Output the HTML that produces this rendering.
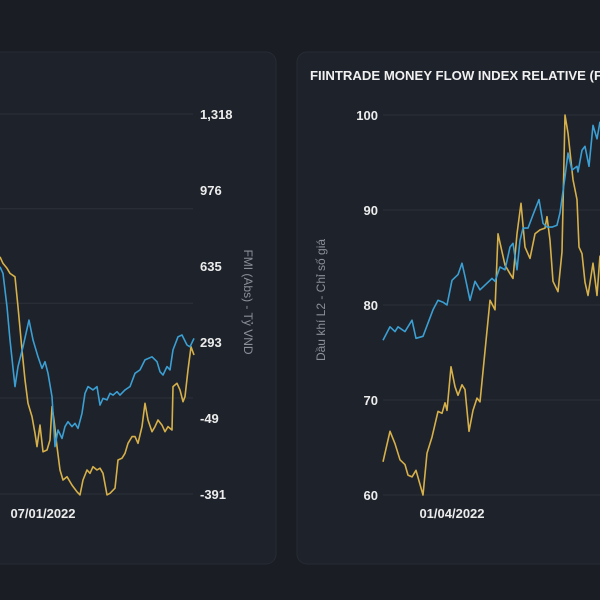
<!DOCTYPE html>
<html><head><meta charset="utf-8"><style>
html,body{margin:0;padding:0;background:#1a1d23;width:600px;height:600px;overflow:hidden}
svg{display:block;font-family:"Liberation Sans","DejaVu Sans",sans-serif}
</style></head><body>
<svg id="c" width="600" height="600" viewBox="0 0 600 600">
<rect x="0" y="0" width="600" height="600" fill="#1a1d23"/>
<rect x="-12" y="52" width="288" height="512" rx="10" fill="#1e222a" stroke="#272b34"/>
<rect x="297" y="52" width="320" height="512" rx="10" fill="#1e222a" stroke="#272b34"/>
<text x="310" y="80" fill="#f0f0f0" font-size="12.5" font-weight="bold" textLength="292" lengthAdjust="spacingAndGlyphs">FIINTRADE MONEY FLOW INDEX RELATIVE (F</text>
<g id="L"></g><g id="R"></g>
</svg>
<script>
// Left chart data (FMI Abs, Tỷ VND)
const leftTicks = [1318, 976, 635, 293, -49, -391];
const leftGrid = [1318, 892, 467, 41, -391];
const leftDateLabel = "07/01/2022";
const leftBlueDays = [0,3,7,10,15,18,23,29,33,38,42,45,48,52,55,58,62,65,68,72,75,78,82,85,88,93,97,100,103,107,110,113,117,120,125,130,135,140,145,152,157,160,163,167,170,173,178,182,187,190,194];
const leftBlue = [631,601,451,302,92,182,271,391,302,226,174,204,152,47,-178,-103,-141,-88,-66,-88,-73,-96,-28,62,92,77,92,9,39,32,62,54,69,54,77,92,152,167,212,226,204,159,144,182,167,257,316,324,279,271,309];
const leftYellowDays = [0,3,7,10,15,18,22,25,28,32,35,37,40,43,47,50,52,54,57,60,63,67,72,77,80,83,87,90,93,97,100,103,107,110,115,118,122,125,128,132,135,138,142,145,148,152,155,158,162,165,168,172,173,177,180,183,185,188,191,194];
const leftYellow = [676,646,624,601,586,451,257,122,17,-43,-118,-178,-81,-201,-193,-148,2,-58,-178,-283,-328,-313,-351,-381,-395,-328,-283,-298,-268,-283,-275,-298,-395,-388,-365,-238,-230,-208,-163,-133,-133,-163,-88,17,-58,-111,-88,-58,-81,-111,-88,-103,92,107,77,24,47,167,271,234];
// Right chart data (Dầu khí L2 price index)
const rightTicks = [100, 90, 80, 70, 60];
const rightDateLabel = "01/04/2022";
const rightBlueDays = [3,10,15,18,25,32,36,43,53,58,63,67,72,78,82,85,90,95,100,107,112,115,120,125,130,133,137,140,143,148,153,159,163,167,172,177,180,185,188,192,197,198,202,205,209,213,217,220];
const rightBlue = [76.3,77.7,77.2,77.7,77.2,78.4,76.5,76.7,79.5,80.5,80.3,80.0,82.6,83.2,84.4,83.0,80.5,82.5,81.6,82.3,82.8,82.5,84.0,83.7,86.1,86.5,83.7,86.8,88.1,88.1,89.5,91.1,88.6,88.2,88.2,88.4,89.7,93.5,96.0,94.2,94.6,94.0,96.3,96.7,94.6,98.9,97.5,99.3];
const rightYellowDays = [3,10,15,20,25,28,32,36,43,47,52,58,62,65,67,71,75,78,82,85,89,93,97,100,110,115,118,125,130,133,137,141,145,150,155,160,165,167,170,173,178,182,185,188,193,197,199,202,205,208,213,217,220];
const rightYellow = [63.5,66.7,65.4,63.7,63.2,62.1,61.9,62.6,60.0,64.4,66.1,68.8,68.6,69.7,68.9,73.5,71.4,70.5,71.6,71.1,66.7,68.9,70.2,69.8,80.5,79.5,87.5,84.2,83.3,82.8,87.5,90.7,86.1,84.9,87.5,87.9,88.1,89.3,86.8,82.5,81.4,85.6,100,98.1,93.2,91.1,86.1,85.4,82.4,81.0,84.4,81.0,85.2];

const NS="http://www.w3.org/2000/svg";
function mk(tag,attrs,parent){const e=document.createElementNS(NS,tag);for(const k in attrs)e.setAttribute(k,attrs[k]);parent.appendChild(e);return e;}
const BLUE="#3b9fd3", YEL="#d6b04a", GRID="#2c313b";

const lY=v=>494-(v+391)*(380/1709);
const lX=d=>d*1;
const L=document.getElementById('L');
leftGrid.forEach(v=>{const g=mk('line',{x1:0,x2:193,y1:lY(v),y2:lY(v),stroke:GRID,'stroke-width':1},L);

});
leftTicks.forEach(v=>{const t=mk('text',{x:200,y:lY(v)+5,fill:'#ececec','font-size':13,'font-weight':'bold'},L);t.textContent=v.toLocaleString('en-US');

});
const lt=mk('text',{x:0,y:0,fill:'#8a8f99','font-size':12,'text-anchor':'middle',transform:'translate(244,302) rotate(90)'},L);lt.textContent='FMI (Abs) - Tỷ VND';


const lx=mk('text',{x:43,y:518,fill:'#ececec','font-size':13,'font-weight':'bold','text-anchor':'middle'},L);lx.textContent=leftDateLabel;


function path(days,vals,xf,yf,col,parent,name){const d=days.map((x,i)=>(i?'L':'M')+xf(x).toFixed(1)+' '+yf(vals[i]).toFixed(1)).join(' ');
const p=mk('path',{d:d,fill:'none',stroke:col,'stroke-width':1.6,'stroke-linejoin':'round'},parent);

}
path(leftYellowDays,leftYellow,lX,lY,YEL,L,'left-fmi-line');
path(leftBlueDays,leftBlue,lX,lY,BLUE,L,'left-price-line');

const rY=v=>495-(v-60)*9.5;
const rX=d=>380+d;
const R=document.getElementById('R');
rightTicks.forEach(v=>{const g=mk('line',{x1:383,x2:600,y1:rY(v),y2:rY(v),stroke:GRID,'stroke-width':1},R);


const t=mk('text',{x:378,y:rY(v)+5,fill:'#ececec','font-size':13,'font-weight':'bold','text-anchor':'end'},R);t.textContent=v;

});
const rt=mk('text',{x:0,y:0,fill:'#8a8f99','font-size':12,'text-anchor':'middle',transform:'translate(325,300) rotate(-90)'},R);rt.textContent='Dầu khí L2 - Chỉ số giá';


const rx=mk('text',{x:452,y:518,fill:'#ececec','font-size':13,'font-weight':'bold','text-anchor':'middle'},R);rx.textContent=rightDateLabel;


path(rightYellowDays,rightYellow,rX,rY,YEL,R,'right-fmi-relative-line');
path(rightBlueDays,rightBlue,rX,rY,BLUE,R,'right-price-line');
</script>
</body></html>
